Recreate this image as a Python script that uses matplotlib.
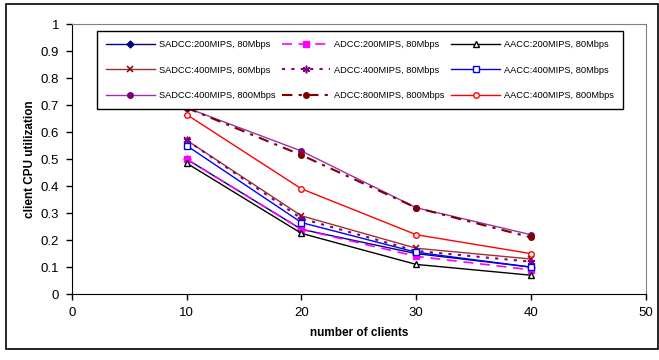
import matplotlib.pyplot as plt
from matplotlib.patches import Rectangle

plt.rcParams['font.family'] = ['Liberation Sans', 'DejaVu Sans']

# number of clients
clients = [10, 20, 30, 40]

# client CPU utilization per scheme
sadcc_200_80 = [0.50, 0.24, 0.15, 0.10]
sadcc_400_80 = [0.57, 0.29, 0.17, 0.13]
sadcc_400_800 = [0.69, 0.53, 0.32, 0.22]
adcc_200_80 = [0.50, 0.24, 0.14, 0.09]
adcc_400_80 = [0.57, 0.28, 0.16, 0.12]
adcc_800_800 = [0.69, 0.515, 0.32, 0.21]
aacc_200_80 = [0.485, 0.225, 0.11, 0.07]
aacc_400_80 = [0.55, 0.265, 0.155, 0.10]
aacc_400_800 = [0.665, 0.39, 0.22, 0.15]

labels = ["SADCC:200MIPS, 80Mbps", "SADCC:400MIPS, 80Mbps", "SADCC:400MIPS, 800Mbps",
          "ADCC:200MIPS, 80Mbps", "ADCC:400MIPS, 80Mbps", "ADCC:800MIPS, 800Mbps",
          "AACC:200MIPS, 80Mbps", "AACC:400MIPS, 80Mbps", "AACC:400MIPS, 800Mbps"]

fig = plt.figure(figsize=(6.59, 3.6), dpi=100)
ax = fig.add_axes([0.109, 0.183, 0.871, 0.75])

ms = 4
# SADCC series
ax.plot(clients, sadcc_200_80, color='#000080', lw=1, marker='D', ms=3.5,
        mfc='#000080', mec='#000080', label=labels[0])
ax.plot(clients, sadcc_400_80, color='#993333', lw=1, marker='x', ms=5,
        mec='#800000', mew=1.1, label=labels[1])
ax.plot(clients, sadcc_400_800, color='#9933aa', lw=1, marker='o', ms=ms,
        mfc='#800080', mec='#800080', label=labels[2])
# ADCC series
ax.plot(clients, adcc_200_80, color='#ff00ff', lw=1.2, ls=(0, (6, 4)), marker='s', ms=ms,
        mfc='#ff00ff', mec='#ff00ff', label=labels[3])
ax.plot(clients, adcc_400_80, color='#800080', lw=1.5, ls=(0, (1.5, 3)), marker=(6, 2, 0), ms=5.5,
        mec='#800080', mew=1.1, label=labels[4])
ax.plot(clients, adcc_800_800, color='#800000', lw=1.5, ls=(0, (5, 3, 1.5, 3)), marker='o', ms=ms,
        mfc='#800000', mec='#800000', label=labels[5])
# AACC series
ax.plot(clients, aacc_200_80, color='black', lw=1, marker='^', ms=ms,
        mfc='white', mec='black', label=labels[6])
ax.plot(clients, aacc_400_80, color='#0000ff', lw=1, marker='s', ms=ms,
        mfc='white', mec='#0000ff', label=labels[7])
ax.plot(clients, aacc_400_800, color='#ff0000', lw=1, marker='o', ms=ms,
        mfc='white', mec='#ff0000', label=labels[8])

ax.set_xlim(0, 50)
ax.set_ylim(0, 1)
ax.set_xticks([0, 10, 20, 30, 40, 50])
ax.set_yticks([0, 0.1, 0.2, 0.3, 0.4, 0.5, 0.6, 0.7, 0.8, 0.9, 1])
ax.set_yticklabels(['0', '0.1', '0.2', '0.3', '0.4', '0.5', '0.6', '0.7', '0.8', '0.9', '1'])
ax.tick_params(direction='out', length=4, width=1, labelsize=9.5, pad=5)
ax.spines['top'].set_color('#808080')
ax.spines['right'].set_color('#808080')
ax.set_xlabel("number of clients", fontsize=8.5, fontweight='bold', labelpad=6)
ax.set_ylabel("client CPU utilization", fontsize=8.5, fontweight='bold')
ax.yaxis.set_label_coords(-0.063, 0.5)

ax.legend(loc='upper left', bbox_to_anchor=(0.0436, 0.974),
          ncol=3, fontsize=6.7, frameon=True, fancybox=False, edgecolor='black',
          framealpha=1, borderaxespad=0, handlelength=5.2, handletextpad=0.45,
          labelspacing=1.75, columnspacing=0.7, borderpad=1.0)

# outer chart border
fig.patches.append(Rectangle((0.009, 0.03), 0.99, 0.96, transform=fig.transFigure,
                             fill=False, edgecolor='black', lw=1.2))

fig.savefig('out.png', dpi=100)
